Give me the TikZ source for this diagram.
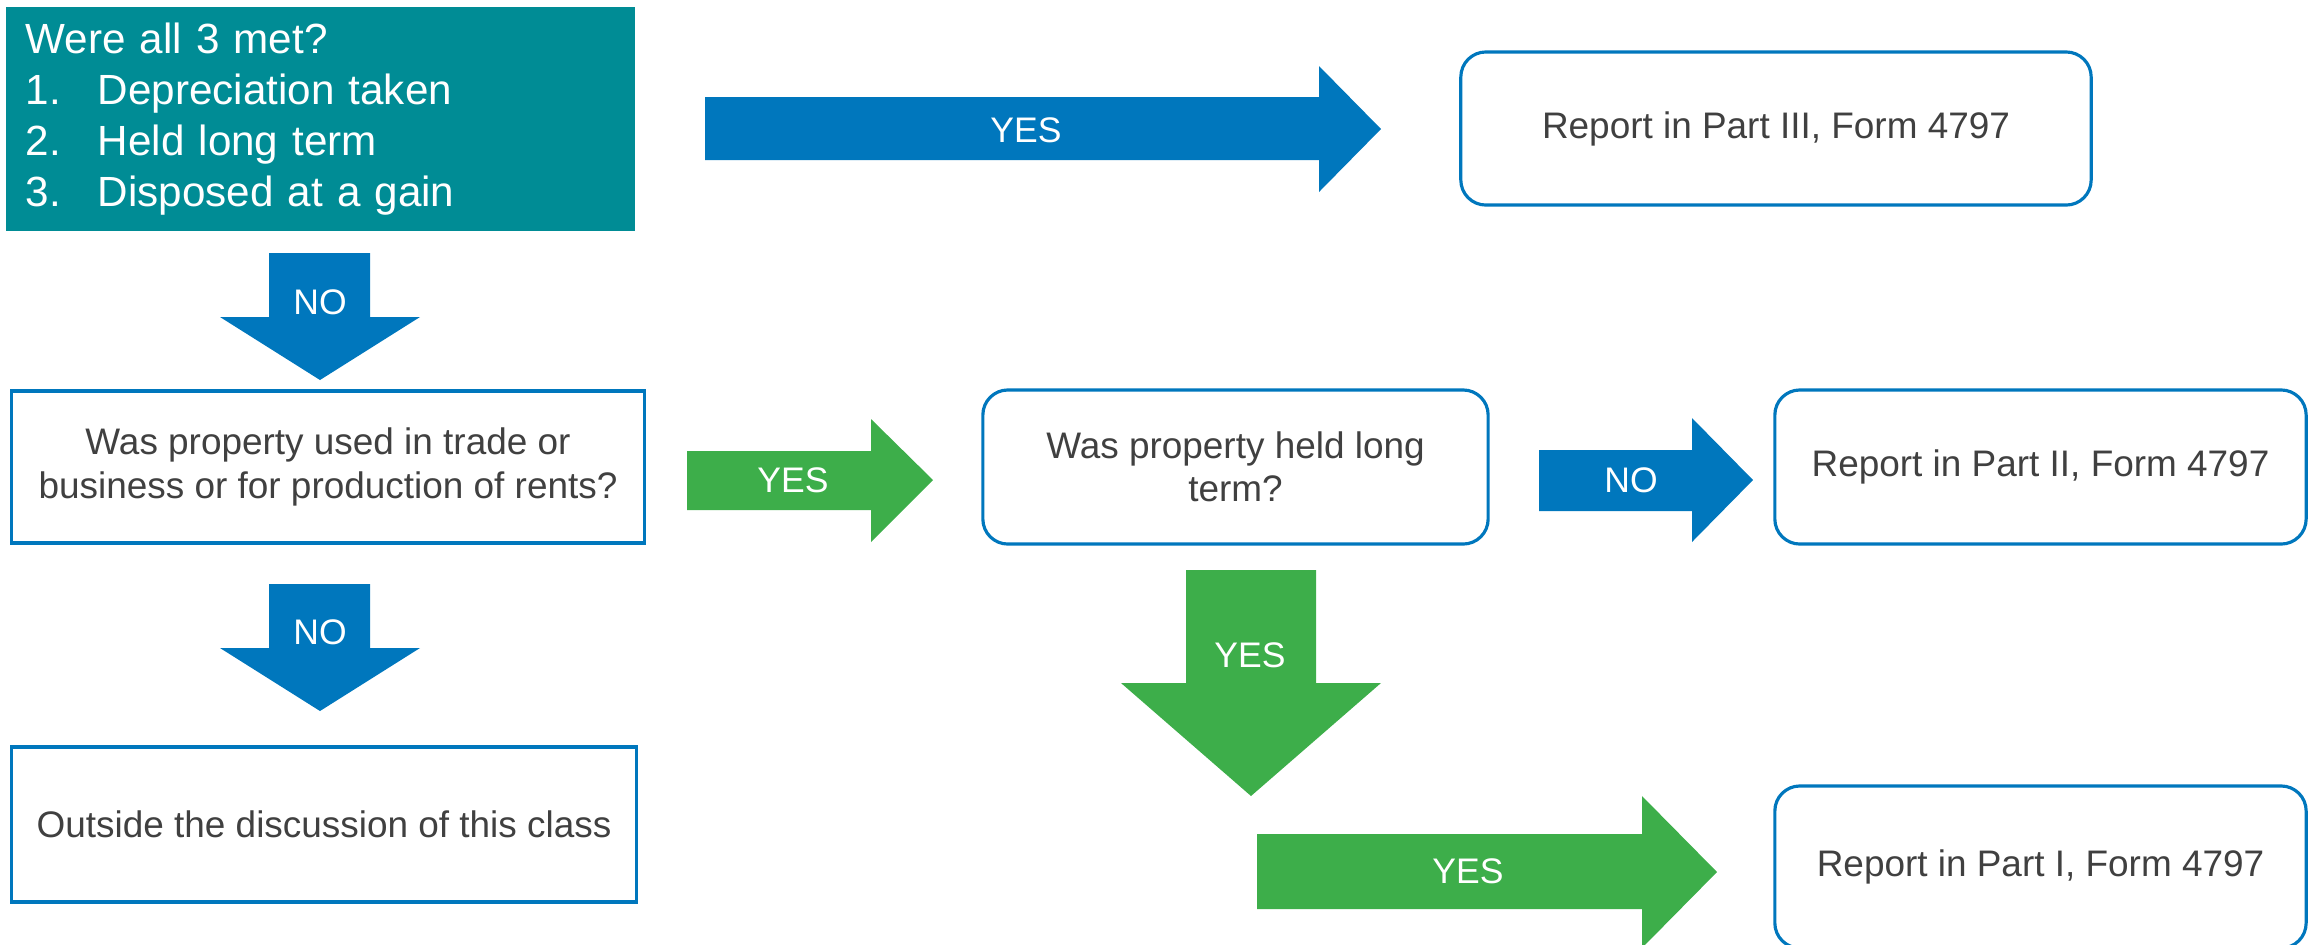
\documentclass[tikz,border=0pt]{standalone}
\usepackage{fontspec}
\setmainfont{Liberation Sans}
\usepackage{tikz}
\usetikzlibrary{positioning}
\usepackage{xcolor}
\definecolor{teal}{HTML}{008C95}
\definecolor{flowblue}{HTML}{0077BD}
\definecolor{flowgreen}{HTML}{3DAE4A}
\definecolor{txtgray}{HTML}{404040}
\tikzset{
  qbox/.style={draw=flowblue,line width=0.9pt,fill=white,text=txtgray,
    font=\fontsize{10.5}{12.3}\selectfont,align=center,inner sep=0pt},
  rbox/.style={qbox,rounded corners=0.25cm},
  condbox/.style={fill=teal,text=white,font=\fontsize{12}{14.5}\selectfont,
    align=left,inner xsep=0.2cm,inner ysep=0pt},
  barrow/.style={fill=flowblue},
  garrow/.style={fill=flowgreen},
  albl/.style={text=white,font=\fontsize{10.1}{12}\selectfont,inner sep=0pt},
}

\begin{document}
\begin{tikzpicture}[x=0.01cm,y=-0.01cm]
  \useasboundingbox (0,0) rectangle (2311,944);
  \clip (0,0) rectangle (2311,944);
  \node[condbox,text width=5.89cm,minimum height=2.24cm] (cond) at (320.5,119)
    {Were all 3 met?\\\makebox[0.72cm][l]{1.}Depreciation taken\\
     \makebox[0.72cm][l]{2.}Held long term\\\makebox[0.72cm][l]{3.}Disposed at a gain};
  \node[qbox,minimum width=6.32cm,minimum height=1.52cm] (trade) at (328,467)
    {Was property used in trade or\\business or for production of rents?};
  \node[qbox,minimum width=6.24cm,minimum height=1.55cm] (outside) at (324,824.5)
    {Outside the discussion of this class};
  \node[rbox,minimum width=5.05cm,minimum height=1.54cm] (held) at (1235.5,467)
    {Was property held long\\term?};
  \node[rbox,minimum width=6.3cm,minimum height=1.53cm] (part3) at (1776,128.5)
    {Report in Part III, Form 4797};
  \node[rbox,minimum width=5.31cm,minimum height=1.54cm] (part2) at (2040.5,467)
    {Report in Part II, Form 4797};
  \node[rbox,minimum width=5.31cm,minimum height=1.62cm] (part1) at (2040.5,867)
    {Report in Part I, Form 4797};
  % block arrows
  \fill[barrow] (705,97)--(1319,97)--(1319,66)--(1381,129)--(1319,192)--(1319,160)--(705,160)--cycle;
  \node[albl] (yes1) at (1026,130) {YES};
  \fill[barrow] (269,253)--(370,253)--(370,317)--(420,317)--(320,380)--(220,317)--(269,317)--cycle;
  \node[albl] (no1) at (320,302) {NO};
  \fill[barrow] (269,584)--(370,584)--(370,648)--(420,648)--(320,711)--(220,648)--(269,648)--cycle;
  \node[albl] (no2) at (320,632) {NO};
  \fill[garrow] (687,451)--(871,451)--(871,419)--(933,480)--(871,542)--(871,510)--(687,510)--cycle;
  \node[albl] (yes2) at (793,480) {YES};
  \fill[barrow] (1539,450)--(1692,450)--(1692,418)--(1753,480)--(1692,542)--(1692,511)--(1539,511)--cycle;
  \node[albl] (no3) at (1631,480) {NO};
  \fill[garrow] (1186,570)--(1316,570)--(1316,683)--(1381,683)--(1251,796)--(1121,683)--(1186,683)--cycle;
  \node[albl] (yes3) at (1250,655) {YES};
  \fill[garrow] (1257,834)--(1642,834)--(1642,796)--(1717,872)--(1642,948)--(1642,909)--(1257,909)--cycle;
  \node[albl] (yes4) at (1468,871) {YES};
\end{tikzpicture}
\end{document}
